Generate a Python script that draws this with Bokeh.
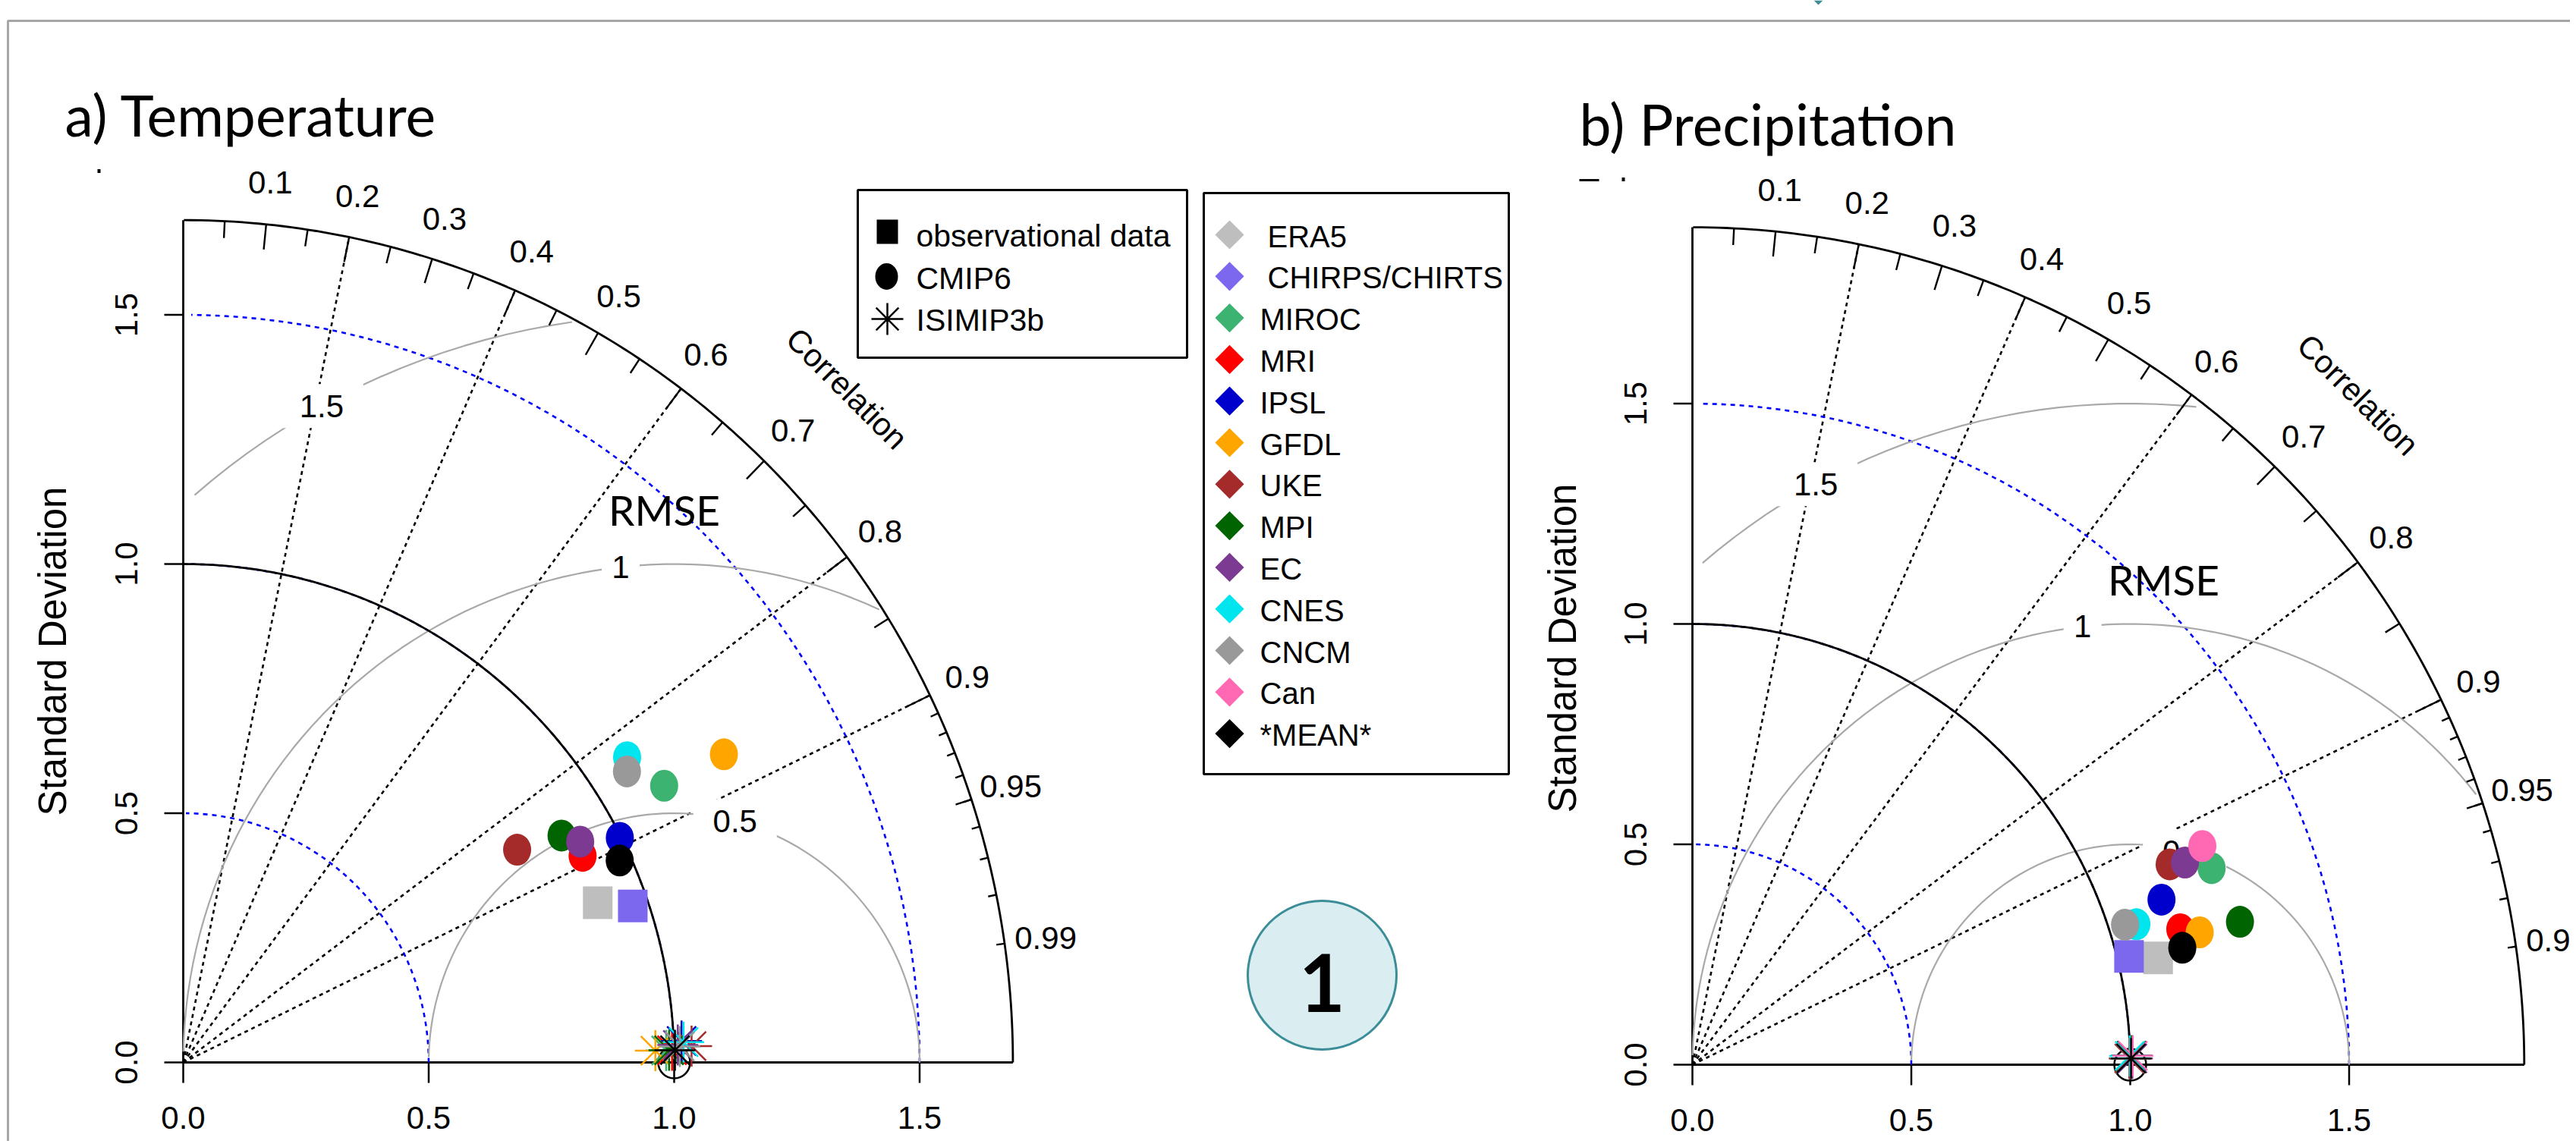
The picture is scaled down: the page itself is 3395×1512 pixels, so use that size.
import numpy as np
from bokeh.plotting import figure
from bokeh.models import Range1d
from bokeh.core.properties import value
from bokeh.embed import file_html
from bokeh.resources import INLINE

# ---------------- data ----------------
MODELS = ["MIROC", "MRI", "IPSL", "GFDL", "UKE", "MPI", "EC", "CNES", "CNCM", "Can", "*MEAN*"]
MODEL_COLORS = ["#3CB371", "#FF0000", "#0000CD", "#FFA500", "#A52A2A", "#006400",
                "#7D3A92", "#00E5EE", "#999999", "#FF69B4", "#000000"]
OBS = ["ERA5", "CHIRPS/CHIRTS"]
OBS_COLORS = ["#BEBEBE", "#7B68EE"]

# a) Temperature  (normalised standard deviation, correlation)
T_CMIP6_SD = [1.126, 0.913, 0.997, 1.263, 0.803, 0.895, 0.922, 1.092, 1.076, None, 0.977]
T_CMIP6_COR = [0.870, 0.891, 0.892, 0.872, 0.847, 0.861, 0.877, 0.828, 0.840, None, 0.910]
T_OBS_SD = [0.903, 0.968]
T_OBS_COR = [0.935, 0.946]
T_ISIMIP_SD = [0.984, 0.996, 1.016, 0.962, 1.036, 0.990, 1.008, 1.020, 1.012, None, 1.002]
T_ISIMIP_COR = [0.9997, 0.9997, 0.9991, 0.9997, 0.9995, 0.9997, 0.9994, 0.9992, 0.9995, None, 0.9997]

# b) Precipitation
P_CMIP6_SD = [1.267, 1.156, 1.135, 1.197, 1.181, 1.292, 1.215, 1.063, 1.038, 1.266, 1.150]
P_CMIP6_COR = [0.936, 0.964, 0.944, 0.968, 0.923, 0.968, 0.926, 0.954, 0.952, 0.920, 0.973]
P_OBS_SD = [1.091, 1.027]
P_OBS_COR = [0.975, 0.971]
P_ISIMIP_SD = [1.000, 1.002, 1.004, 1.001, 0.998, 1.003, 1.005, 0.999, 1.001, 1.006, 1.002]
P_ISIMIP_COR = [0.9999, 0.9999, 0.9998, 0.9999, 0.9999, 0.9998, 0.9999, 0.9998, 0.9999, 0.9998, 0.9999]

AXIS_TICKS = [0.0, 0.5, 1.0, 1.5]
AXIS_LABELS = ["0.0", "0.5", "1.0", "1.5"]
CORR_TICKS = [0.1, 0.2, 0.3, 0.4, 0.5, 0.6, 0.7, 0.8, 0.9, 0.95, 0.99]
CORR_LABELS = ["0.1", "0.2", "0.3", "0.4", "0.5", "0.6", "0.7", "0.8", "0.9", "0.95", "0.99"]
GRAD_CORR_LINES = [0.2, 0.4, 0.6, 0.8, 0.9]
RMSE_LEVELS = [0.5, 1.0, 1.5]
RMSE_LABELS = ["0.5", "1", "1.5"]
SD_REF = 1.0

LEGEND1 = ["observational data", "CMIP6", "ISIMIP3b"]

# ---------------- layout ----------------
PX0, PX1, PY0, PY1 = 8, 3395, 8, 1512
PANELS = {
    "L": dict(ox=249, oy=1408, sx=647, sy=657, M=1.69),
    "R": dict(ox=2238, oy=1411, sx=577, sy=581, M=1.9),
}

p = figure(width=PX1 - PX0, height=PY1 - PY0,
           x_range=Range1d(PX0, PX1), y_range=Range1d(PY1, PY0),
           output_backend="svg", toolbar_location=None,
           x_axis_type=None, y_axis_type=None, min_border=0)
p.outline_line_color = None
p.background_fill_color = "white"
p.border_fill_color = "white"

for k, P in PANELS.items():
    p.extra_x_ranges[k + "x"] = Range1d((PX0 - P["ox"]) / P["sx"], (PX1 - P["ox"]) / P["sx"])
    p.extra_y_ranges[k + "y"] = Range1d((P["oy"] - PY1) / P["sy"], (P["oy"] - PY0) / P["sy"])


def font(name, size, **kw):
    d = dict(text_font=value(name), text_font_size=value(f"{size}px"), text_color="black")
    d.update(kw)
    return d


ARIAL = "Liberation Sans"
CAL = "Lato"
FS = 42

# page frame
p.line([18, 18, PX1], [PY1, 35, 35], line_color="#A6A6A6", line_width=3)
# small remnants at the top of the page / panels
p.patch([2398, 2410, 2404], [8, 8, 14], fill_color="#3B8D97", line_color=None)
p.rect(x=[138, 2102, 2147], y=[233, 245, 244], width=[4, 26, 4], height=[5, 3, 5],
       fill_color="black", line_color=None)


def polar(sd, cor):
    sd = np.array([np.nan if v is None else v for v in sd], float)
    cor = np.array([np.nan if v is None else v for v in cor], float)
    return sd * cor, sd * np.sqrt(1 - cor ** 2)


def panel(key, cm_sd, cm_cor, ob_sd, ob_cor, is_sd, is_cor):
    P = PANELS[key]
    M, sx, sy = P["M"], P["sx"], P["sy"]
    kw = dict(x_range_name=key + "x", y_range_name=key + "y")

    # radial correlation lines
    g = np.array(GRAD_CORR_LINES)
    p.segment(x0=0 * g, y0=0 * g, x1=M * g, y1=M * np.sqrt(1 - g ** 2),
              line_color="black", line_width=2.6, line_dash="5 5", **kw)
    # axes
    p.segment(x0=[0, 0], y0=[0, 0], x1=[0, M], y1=[M, 0], line_color="black", line_width=2.8, **kw)
    t = np.array(AXIS_TICKS)
    p.segment(x0=t, y0=0 * t, x1=t, y1=0 * t - 27 / sy, line_color="black", line_width=2.5, **kw)
    p.segment(x0=0 * t, y0=t, x1=0 * t - 25 / sx, y1=t, line_color="black", line_width=2.5, **kw)
    p.text(x=t, y=0 * t, text=AXIS_LABELS, y_offset=73, text_align="center", text_baseline="middle",
           **font(ARIAL, FS), **kw)
    p.text(x=0 * t, y=t, text=AXIS_LABELS, x_offset=-75, angle=np.pi / 2, text_align="center",
           text_baseline="middle", **font(ARIAL, FS), **kw)

    # sd arcs (blue dotted)
    th = np.arange(0, np.pi / 2, 0.03)
    for r in t[t > 0]:
        p.line(r * np.cos(th), r * np.sin(th), line_color="#0000FF", line_width=2.6, line_dash="6 6", **kw)

    # RMSE arcs (gray) with boxed labels
    labelpos = np.linspace(45, 70, len(RMSE_LEVELS)).astype(int) - 1
    th2 = np.arange(0, np.pi, 0.03)
    for gi, gam in enumerate(RMSE_LEVELS):
        xc = np.cos(th2) * gam + SD_REF
        yc = np.sin(th2) * gam
        neg = np.where(xc < 0)[0]
        end = neg[0] - 1 if len(neg) else len(th2) - 1
        beyond = np.where(xc ** 2 + yc ** 2 > M * M)[0]
        start = beyond[-1] + 1 if len(beyond) else 0
        p.line(xc[start:end + 1], yc[start:end + 1], line_color="#A9A9A9", line_width=2.2, **kw)
        li = labelpos[gi]
        if xc[li] > 0:
            lab = RMSE_LABELS[gi]
            p.rect(x=[xc[li]], y=[yc[li]], width=30 * len(lab) + 20, height=58,
                   width_units="screen", height_units="screen", fill_color="white", line_color=None, **kw)
            p.text(x=[xc[li]], y=[yc[li]], text=[lab], text_align="center", text_baseline="middle",
                   **font(ARIAL, FS), **kw)

    # outer arc + ticks
    th3 = np.arange(0, np.pi / 2, 0.01)
    p.line(M * np.cos(th3), M * np.sin(th3), line_color="black", line_width=2.8, **kw)
    big = np.arccos(np.arange(1, 10) / 10)
    p.segment(x0=M * np.cos(big), y0=M * np.sin(big), x1=0.97 * M * np.cos(big), y1=0.97 * M * np.sin(big),
              line_color="black", line_width=2.4, **kw)
    # reference sd arc
    p.line(SD_REF * np.cos(th3), SD_REF * np.sin(th3), line_color="black", line_width=2.8, **kw)
    p.scatter(x=[SD_REF], y=[0], marker="circle", size=42, fill_color=None, line_color="black",
              line_width=2.5, **kw)
    # correlation labels
    ca = np.arccos(np.array(CORR_TICKS))
    p.text(x=1.05 * M * np.cos(ca), y=1.05 * M * np.sin(ca), text=CORR_LABELS, text_align="center",
           text_baseline="middle", **font(ARIAL, FS), **kw)
    p.text(x=[0.8 * M], y=[0.8 * M], text=["Correlation"], angle=-np.pi / 4, text_align="center",
           text_baseline="middle", **font(ARIAL, FS), **kw)
    med = np.arccos(np.arange(5, 100, 10) / 100)
    p.segment(x0=M * np.cos(med), y0=M * np.sin(med), x1=0.98 * M * np.cos(med), y1=0.98 * M * np.sin(med),
              line_color="black", line_width=2.4, **kw)
    sml = np.arccos(np.arange(91, 100) / 100)
    p.segment(x0=M * np.cos(sml), y0=M * np.sin(sml), x1=0.99 * M * np.cos(sml), y1=0.99 * M * np.sin(sml),
              line_color="black", line_width=2.4, **kw)

    # observations (squares)
    ox, oy = polar(ob_sd, ob_cor)
    p.rect(x=ox, y=oy, width=39, height=43, width_units="screen", height_units="screen",
           fill_color=OBS_COLORS, line_color=None, **kw)
    # CMIP6 models
    mx, my = polar(cm_sd, cm_cor)
    ok = ~np.isnan(mx)
    p.ellipse(x=mx[ok], y=my[ok], width=37, height=42, width_units="screen", height_units="screen",
              fill_color=[c for c, o in zip(MODEL_COLORS, ok) if o], line_color=None, **kw)
    # ISIMIP3b
    ix, iy = polar(is_sd, is_cor)
    ok = ~np.isnan(ix)
    p.scatter(x=ix[ok], y=iy[ok], marker="asterisk", size=54,
              line_color=[c for c, o in zip(MODEL_COLORS, ok) if o], line_width=2.5, **kw)


panel("L", T_CMIP6_SD, T_CMIP6_COR, T_OBS_SD, T_OBS_COR, T_ISIMIP_SD, T_ISIMIP_COR)
panel("R", P_CMIP6_SD, P_CMIP6_COR, P_OBS_SD, P_OBS_COR, P_ISIMIP_SD, P_ISIMIP_COR)

# y-axis titles
p.text(x=[77], y=[866], text=["Standard Deviation"], angle=np.pi / 2, text_align="center",
       text_baseline="middle", **font(ARIAL, 51))
p.text(x=[2067], y=[862], text=["Standard Deviation"], angle=np.pi / 2, text_align="center",
       text_baseline="middle", **font(ARIAL, 51))

# panel titles and RMSE notes
p.text(x=[93, 2089], y=[158, 170], text=["a) Temperature", "b) Precipitation"], text_align="left",
       text_baseline="alphabetic", **font(CAL, 75))
p.text(x=[883, 2859], y=[679, 771], text=["RMSE", "RMSE"], text_align="center", text_baseline="middle",
       **font(CAL, 55))

# legend 1
p.rect(x=[1355], y=[368.5], width=434, height=221, fill_color="white", line_color="black", line_width=3)
p.rect(x=[1177], y=[313], width=28, height=32, fill_color="black", line_color=None)
p.ellipse(x=[1176], y=[372], width=30, height=35, fill_color="black", line_color=None)
p.scatter(x=[1177], y=[428], marker="asterisk", size=42, line_color="black", line_width=2.5)
p.text(x=[1215] * 3, y=[318, 374, 429], text=LEGEND1, text_align="left", text_baseline="middle",
       **font(ARIAL, 41))

# legend 2
leg_labels = OBS + MODELS
leg_colors = OBS_COLORS + MODEL_COLORS
rows = [317 + 54.8 * i for i in range(len(leg_labels))]
p.rect(x=[1795], y=[645], width=402, height=766, fill_color="white", line_color="black", line_width=3)
p.scatter(x=[1628] * len(rows), y=rows, marker="square", angle=np.pi / 4, size=27,
          fill_color=leg_colors, line_color=None)
p.text(x=[1678, 1678] + [1668] * len(MODELS), y=[r + 2 for r in rows], text=leg_labels,
       text_align="left", text_baseline="middle", **font(ARIAL, 40))

# circled number
p.ellipse(x=[1750], y=[1293], width=196, height=196, fill_color="#DAEEF1", line_color="#3B8D97",
          line_width=3)
p.text(x=[1750], y=[1303], text=["1"], text_align="center", text_baseline="middle",
       **font(CAL, 105, text_font_style="bold"))

open("out.html", "w").write(file_html(p, INLINE))
